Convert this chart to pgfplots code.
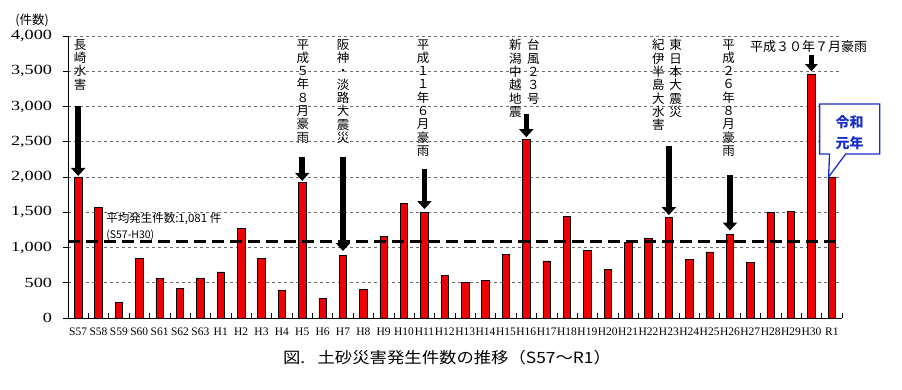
\documentclass[border=0pt]{standalone}
\usepackage{pgfplots}
\pgfplotsset{compat=1.18}
\usepackage{pgfplotstable}
\usepackage{fontspec}
\usetikzlibrary{arrows.meta}
\setmainfont{Liberation Serif}
\newfontfamily\jp{Noto Sans CJK JP}
\newfontfamily\jpcap[FakeStretch=1.12]{Noto Sans CJK JP}
\newfontfamily\serifw[FakeStretch=1.3]{Liberation Serif}
\definecolor{calloutblue}{RGB}{25,45,200}
\definecolor{barred}{RGB}{240,0,0}

\pgfplotstableread{
x y
0 2000
1 1564
2 218
3 848
4 559
5 417
6 569
7 654
8 1270
9 844
10 398
11 1919
12 280
13 886
14 408
15 1152
16 1626
17 1502
18 602
19 502
20 536
21 896
22 2537
23 810
24 1445
25 962
26 692
27 1071
28 1128
29 1422
30 834
31 938
32 1185
33 787
34 1493
35 1512
36 3461
37 2000
}\datatable

\begin{document}
\begin{tikzpicture}
\useasboundingbox (0,0) rectangle (902pt,390pt);
\begin{axis}[
  at={(68pt,72pt)}, anchor=south west,
  scale only axis, width=774pt, height=282pt,
  xmin=-0.5, xmax=37.5, ymin=0, ymax=4000,
  clip=false,
  axis x line*=bottom, axis y line*=left,
  axis line style={black, line width=0.8pt},
  ytick={0,500,...,4000},
  xtick={-0.5,0.5,...,37.5},
  xticklabels={},
  xtick align=inside, ytick align=outside,
  major tick length=4.5pt,
  tick style={black, line width=0.6pt},
  extra x ticks={0,...,37},
  extra x tick labels={S57,S58,S59,S60,S61,S62,S63,H1,H2,H3,H4,H5,H6,H7,H8,H9,H10,H11,H12,H13,H14,H15,H16,H17,H18,H19,H20,H21,H22,H23,H24,H25,H26,H27,H28,H29,H30,R1},
  extra x tick style={major tick length=0pt, tick style={draw=none}},
  xticklabel style={font=\fontsize{11.5}{11.5}\selectfont, yshift=-6pt},
  yticklabel style={font=\serifw\fontsize{14}{14}\selectfont, xshift=-8pt},
  /pgf/number format/assume math mode=true,
  /pgf/number format/1000 sep={,},
  ymajorgrids,
  grid style={gray!85!black, dashed, line width=0.6pt},
]
\addplot[ybar, bar width=7.5pt, fill=barred, draw=black, line width=0.7pt] table[x=x,y=y]{\datatable};

% average line
\addplot[black, line width=3pt, dash pattern=on 12pt off 6pt] coordinates {(-0.5,1081) (37.2,1081)};

% arrows
\addplot[black, line width=5.5pt, -{Triangle[width=14pt,length=8pt]}] coordinates {(0,3000) (0,2015)};
\addplot[black, line width=5.5pt, -{Triangle[width=14pt,length=8pt]}] coordinates {(11,2284) (11,1945)};
\addplot[black, line width=5.5pt, -{Triangle[width=14pt,length=8pt]}] coordinates {(13,2284) (13,950)};
\addplot[black, line width=5.5pt, -{Triangle[width=14pt,length=8pt]}] coordinates {(17,2110) (17,1545)};
\addplot[black, line width=5.5pt, -{Triangle[width=14pt,length=8pt]}] coordinates {(22,2890) (22,2565)};
\addplot[black, line width=5.5pt, -{Triangle[width=14pt,length=8pt]}] coordinates {(29,2440) (29,1460)};
\addplot[black, line width=5.5pt, -{Triangle[width=14pt,length=8pt]}] coordinates {(32,2030) (32,1240)};
\addplot[black, line width=5pt, -{Triangle[width=12pt,length=7pt]}] coordinates {(36,3730) (36,3500)};

% annotations
\tikzset{vtext/.style={anchor=north, font=\jp\fontsize{12.5}{13.3}\selectfont, align=center, inner sep=0pt}}
\node[vtext] at (axis cs:0.1,3955) {長\\崎\\水\\害};
\node[vtext] at (axis cs:11.03,3955) {平\\成\\５\\年\\８\\月\\豪\\雨};
\node[vtext] at (axis cs:13.01,3955) {阪\\神\\・\\淡\\路\\大\\震\\災};
\node[vtext] at (axis cs:16.94,3955) {平\\成\\１\\１\\年\\６\\月\\豪\\雨};
\node[vtext] at (axis cs:21.46,3955) {新\\潟\\中\\越\\地\\震};
\node[vtext] at (axis cs:22.35,3955) {台\\風\\２\\３\\号};
\node[vtext] at (axis cs:28.49,3955) {紀\\伊\\半\\島\\大\\水\\害};
\node[vtext] at (axis cs:29.33,3955) {東\\日\\本\\大\\震\\災};
\node[vtext] at (axis cs:31.93,3955) {平\\成\\２\\６\\年\\８\\月\\豪\\雨};
\node[font=\jp\fontsize{13}{13}\selectfont, inner sep=0pt] at (axis cs:35.86,3844) {平成３０年７月豪雨};

% average label
\node[anchor=west, inner sep=0pt, font=\jp\fontsize{11.5}{11.5}\selectfont] at (axis cs:1.37,1404) {平均発生件数:1,081 件};
\node[anchor=west, inner sep=0pt, font=\jp\fontsize{10.5}{10.5}\selectfont] at (axis cs:1.37,1177) {(S57-H30)};

% callout
\draw[calloutblue, line width=1.3pt, fill=white] (axis cs:36.4,3035) -- (axis cs:39.35,3035) -- (axis cs:39.35,2326) -- (axis cs:37.68,2326) -- (axis cs:36.84,2000) -- (axis cs:36.89,2326) -- (axis cs:36.4,2326) -- cycle;
\node[calloutblue, inner sep=0pt, font=\jp\bfseries\fontsize{14}{14}\selectfont] at (axis cs:37.88,2780) {令和};
\node[calloutblue, inner sep=0pt, font=\jp\bfseries\fontsize{14}{14}\selectfont] at (axis cs:37.88,2482) {元年};
\end{axis}
\node[inner sep=0pt, font=\jp\fontsize{12.5}{12.5}\selectfont] at (32pt,370pt) {(件数)};
\node[inner sep=0pt, font=\jpcap\fontsize{15.5}{15.5}\selectfont] at (447pt,32pt) {図.\hspace{0.8em}土砂災害発生件数の推移（S57～R1）};
\end{tikzpicture}
\end{document}
